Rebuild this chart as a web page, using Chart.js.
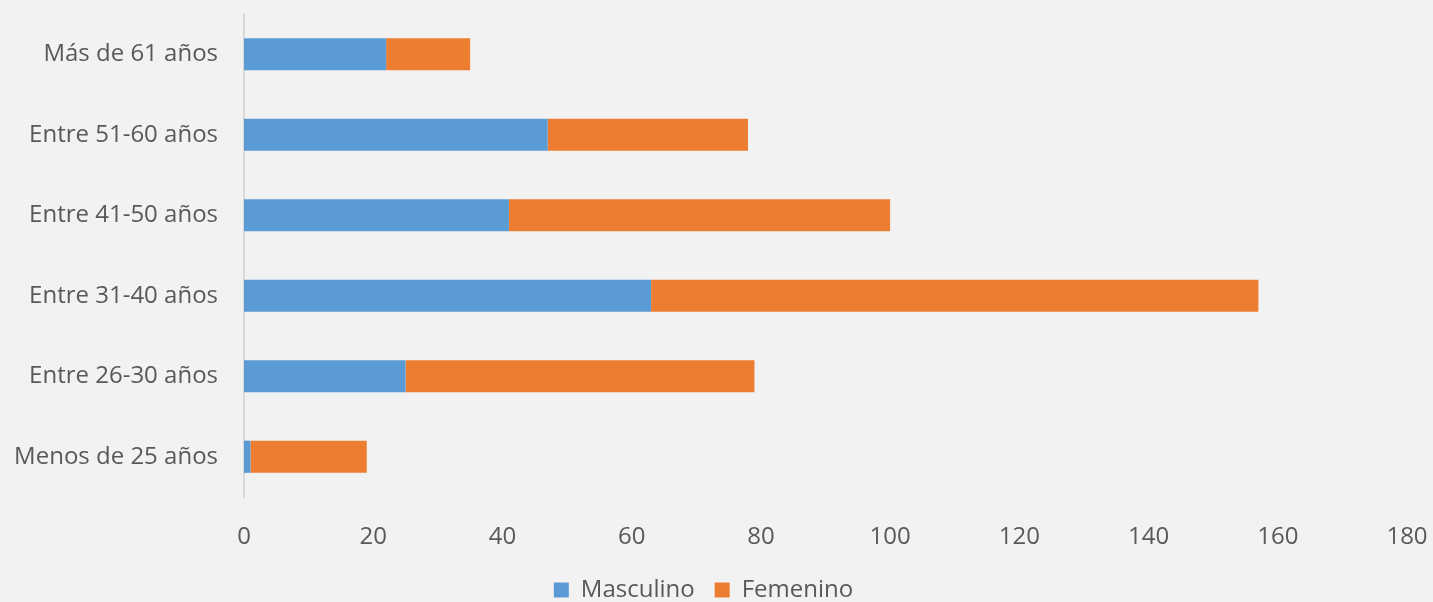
<!DOCTYPE html>
<html>
<head>
<meta charset="utf-8">
<script src="https://cdn.jsdelivr.net/npm/chart.js@4"></script>
<style>
  html, body { margin: 0; padding: 0; background: #f2f2f2; }
  #wrap { width: 1433px; height: 602px; }
</style>
</head>
<body>
<div id="wrap"><canvas id="chart"></canvas></div>
<script>
const categories = ["Más de 61 años", "Entre 51-60 años", "Entre 41-50 años", "Entre 31-40 años", "Entre 26-30 años", "Menos de 25 años"];
const masculino = [22, 47, 41, 63, 25, 1];
const femenino = [13, 31, 59, 94, 54, 18];
const xTicks = [0, 20, 40, 60, 80, 100, 120, 140, 160, 180];

const font = { family: "'Open Sans', 'Noto Sans', sans-serif", size: 24 };
const textColor = "#595959";

// drop the label overhang so the layout padding alone places the plot area
const noOverhang = (scale) => {
  scale.paddingTop = 0;
  scale.paddingBottom = 0;
  scale.paddingLeft = 0;
  scale.paddingRight = 0;
};

const ctx = document.getElementById("chart").getContext("2d");
new Chart(ctx, {
  type: "bar",
  data: {
    labels: categories,
    datasets: [
      { label: "Masculino", data: masculino, backgroundColor: "#5b9bd5" },
      { label: "Femenino", data: femenino, backgroundColor: "#ed7d31" },
    ],
  },
  options: {
    indexAxis: "y",
    responsive: true,
    maintainAspectRatio: false,
    animation: false,
    layout: { padding: { left: 0, right: 26, top: 14, bottom: -10 } },
    datasets: { bar: { barPercentage: 0.4, categoryPercentage: 1 } },
    scales: {
      x: {
        stacked: true,
        min: 0,
        max: 180,
        afterBuildTicks: (scale) => { scale.ticks = xTicks.map((v) => ({ value: v })); },
        afterFit: (scale) => { noOverhang(scale); scale.height = 61; },
        grid: { display: false, drawTicks: false },
        border: { display: false },
        ticks: { color: textColor, font: font, padding: 26, maxRotation: 0 },
      },
      y: {
        stacked: true,
        afterFit: (scale) => { noOverhang(scale); scale.width = 244; },
        grid: { display: false, drawTicks: false },
        border: { display: true, color: "#d9d9d9", width: 2 },
        ticks: { color: textColor, font: font, padding: 26 },
      },
    },
    plugins: {
      tooltip: { enabled: false },
      legend: {
        position: "bottom",
        labels: {
          color: textColor,
          font: font,
          boxWidth: 15,
          boxHeight: 15,
          padding: 20,
        },
      },
    },
  },
});
</script>
</body>
</html>
